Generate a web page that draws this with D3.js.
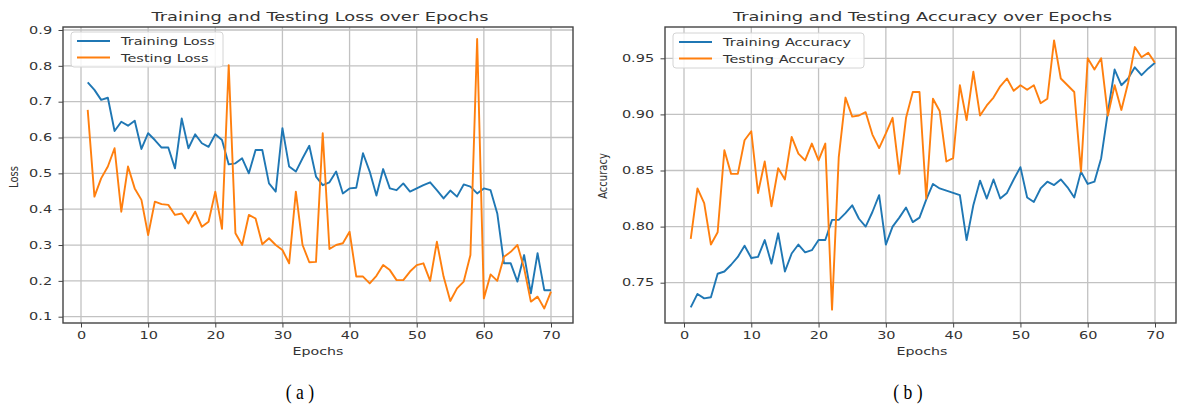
<!DOCTYPE html>
<html lang="en">
<head>
<meta charset="UTF-8">
<title>Training and Testing Loss / Accuracy over Epochs</title>
<style>
  body { margin: 0; background: #fff; }
  svg { display: block; }
  text { font-family: "DejaVu Sans", sans-serif; fill: #333; }
  .grid line { stroke: #c2c2c2; stroke-width: 1.3; }
  .frame { fill: none; stroke: #444; stroke-width: 1.4; }
  .series { fill: none; stroke-width: 1.9; stroke-linejoin: round; }
  .legend-box { fill: #fff; fill-opacity: 0.85; stroke: #d4d4d4; stroke-width: 1; }
  .caption { font-family: "Liberation Serif", serif; font-size: 22px; fill: #000; }
</style>
</head>
<body>
<div id="chart"></div>
<script src="https://cdn.jsdelivr.net/npm/d3@7"></script>
<script>
// values
var trainLoss = [0.754,0.733,0.705,0.711,0.618,0.644,0.633,0.647,0.568,0.612,
                 0.593,0.572,0.572,0.514,0.653,0.570,0.609,0.584,0.574,0.609,
                 0.593,0.525,0.528,0.542,0.500,0.565,0.565,0.472,0.449,0.626,
                 0.519,0.505,0.542,0.577,0.491,0.467,0.475,0.505,0.444,0.458,
                 0.460,0.556,0.505,0.438,0.512,0.458,0.453,0.472,0.449,0.458,
                 0.467,0.475,0.453,0.430,0.452,0.435,0.469,0.463,0.444,0.458,
                 0.453,0.388,0.249,0.249,0.198,0.272,0.165,0.277,0.174,0.174];
var testLoss  = [0.677,0.435,0.486,0.519,0.570,0.393,0.519,0.458,0.426,0.328,
                 0.421,0.414,0.412,0.384,0.388,0.360,0.393,0.351,0.365,0.449,
                 0.345,0.802,0.333,0.300,0.384,0.374,0.302,0.319,0.300,0.286,
                 0.249,0.449,0.300,0.252,0.253,0.612,0.289,0.300,0.305,0.337,
                 0.212,0.212,0.193,0.214,0.244,0.230,0.202,0.202,0.226,0.244,
                 0.249,0.200,0.309,0.212,0.144,0.179,0.198,0.272,0.875,0.151,
                 0.218,0.200,0.267,0.281,0.300,0.235,0.142,0.156,0.123,0.170];
var trainAcc  = [0.728,0.740,0.736,0.737,0.758,0.760,0.766,0.773,0.783,0.772,
                 0.773,0.788,0.767,0.794,0.760,0.776,0.784,0.777,0.779,0.788,
                 0.788,0.806,0.806,0.812,0.819,0.807,0.800,0.813,0.828,0.784,
                 0.800,0.808,0.817,0.804,0.808,0.824,0.838,0.834,0.832,0.830,
                 0.828,0.788,0.819,0.841,0.825,0.842,0.825,0.830,0.842,0.853,
                 0.826,0.822,0.834,0.840,0.837,0.842,0.835,0.826,0.849,0.838,
                 0.840,0.861,0.902,0.940,0.926,0.932,0.942,0.935,0.941,0.946];
var testAcc   = [0.789,0.834,0.821,0.784,0.795,0.868,0.847,0.847,0.877,0.885,
                 0.830,0.858,0.818,0.852,0.842,0.880,0.865,0.859,0.874,0.859,
                 0.874,0.726,0.862,0.915,0.898,0.899,0.902,0.882,0.870,0.883,
                 0.897,0.847,0.897,0.920,0.920,0.825,0.914,0.903,0.858,0.861,
                 0.926,0.895,0.938,0.899,0.908,0.915,0.925,0.932,0.921,0.926,
                 0.922,0.926,0.910,0.914,0.966,0.932,0.926,0.920,0.849,0.950,
                 0.940,0.950,0.899,0.926,0.904,0.928,0.960,0.951,0.955,0.946];

var epochTicks = [0, 10, 20, 30, 40, 50, 60, 70];
var lossTicks  = [0.1, 0.2, 0.3, 0.4, 0.5, 0.6, 0.7, 0.8, 0.9];
var accTicks   = [0.75, 0.80, 0.85, 0.90, 0.95];

var blue = "#1f77b4", orange = "#ff7f0e";

var svg = d3.select("#chart").append("svg")
  .attr("width", 1177)
  .attr("height", 406);

// text in the picture is stretched sideways, so every label gets a scale
function label(g, str, x, y, size, sx, anchor) {
  return g.append("text")
    .attr("transform", "translate(" + x + "," + y + ") scale(" + sx + ",1)")
    .attr("text-anchor", anchor || "start")
    .style("font-size", size + "px")
    .text(str);
}

function panel(o) {
  var g = svg.append("g");
  var epochs = d3.range(1, o.series[0].values.length + 1);

  var x = d3.scaleLinear().domain([0, 70]).range(o.xRange);
  var y = d3.scaleLinear().domain(o.yDomain).range(o.yRange);

  var grid = g.append("g").attr("class", "grid");
  grid.selectAll("line.v").data(epochTicks).join("line")
    .attr("class", "v")
    .attr("x1", function(d) { return x(d); })
    .attr("x2", function(d) { return x(d); })
    .attr("y1", o.top).attr("y2", o.bottom);
  grid.selectAll("line.h").data(o.yTicks).join("line")
    .attr("class", "h")
    .attr("x1", o.left).attr("x2", o.right)
    .attr("y1", function(d) { return y(d); })
    .attr("y2", function(d) { return y(d); });

  var xa = g.append("g")
    .attr("transform", "translate(0," + o.bottom + ")")
    .style("color", "#444")
    .call(d3.axisBottom(x).tickValues(epochTicks).tickSize(4.5).tickPadding(4).tickFormat(d3.format("d")));
  xa.select(".domain").remove();
  xa.selectAll("text").style("font-size", "10px").attr("transform", "scale(1.45,1)");

  var ya = g.append("g")
    .attr("transform", "translate(" + o.left + ",0)")
    .style("color", "#444")
    .call(d3.axisLeft(y).tickValues(o.yTicks).tickSize(4.5).tickPadding(3).tickFormat(o.yFormat));
  ya.select(".domain").remove();
  ya.selectAll("text").style("font-size", "10px").attr("transform", "scale(1.45,1)");

  var line = d3.line()
    .x(function(d, i) { return x(epochs[i]); })
    .y(function(d) { return y(d); });

  o.series.forEach(function(s) {
    g.append("path")
      .datum(s.values)
      .attr("class", "series")
      .attr("stroke", s.color)
      .attr("d", line);
  });

  g.append("rect")
    .attr("class", "frame")
    .attr("x", o.left).attr("y", o.top)
    .attr("width", o.right - o.left)
    .attr("height", o.bottom - o.top);

  // legend
  var lg = g.append("g").attr("transform", "translate(" + o.legend[0] + "," + o.legend[1] + ")");
  lg.append("rect")
    .attr("class", "legend-box")
    .attr("width", o.legendW).attr("height", 35).attr("rx", 3);
  o.series.forEach(function(s, i) {
    var ly = 9 + i * 16.5;
    lg.append("line")
      .attr("x1", 6).attr("x2", 39)
      .attr("y1", ly).attr("y2", ly)
      .attr("stroke", s.color).attr("stroke-width", 1.9);
    label(lg, s.name, 50, ly + 4, 11, 1.32);
  });

  label(g, o.title, (o.left + o.right) / 2 + o.titleShift, 21, 13, 1.37, "middle");
  label(g, "Epochs", o.xLabelX, 355, 10, 1.42, "middle");
  g.append("text")
    .attr("transform", "translate(" + o.yLabel[0] + "," + o.yLabel[1] + ") scale(1.3,1) rotate(-90)")
    .attr("text-anchor", "middle")
    .style("font-size", "10px")
    .text(o.yName);

  g.append("text")
    .attr("class", "caption")
    .attr("transform", "translate(" + o.caption + ",399) scale(0.8,1)")
    .attr("text-anchor", "middle")
    .text(o.captionText);
}

panel({
  left: 63, right: 573, top: 27, bottom: 323,
  xRange: [81, 551],
  yDomain: [0.1, 0.9], yRange: [316.7, 30],
  yTicks: lossTicks, yFormat: d3.format(".1f"),
  series: [
    { name: "Training Loss", values: trainLoss, color: blue },
    { name: "Testing Loss", values: testLoss, color: orange }
  ],
  legend: [71, 32], legendW: 152,
  title: "Training and Testing Loss over Epochs", titleShift: 2,
  xLabelX: 318, yLabel: [18, 177], yName: "Loss",
  caption: 300, captionText: "( a )"
});

panel({
  left: 665, right: 1176, top: 27, bottom: 323,
  xRange: [684, 1155],
  yDomain: [0.75, 0.95], yRange: [282.7, 58.3],
  yTicks: accTicks, yFormat: d3.format(".2f"),
  series: [
    { name: "Training Accuracy", values: trainAcc, color: blue },
    { name: "Testing Accuracy", values: testAcc, color: orange }
  ],
  legend: [673, 33], legendW: 191,
  title: "Training and Testing Accuracy over Epochs", titleShift: 2,
  xLabelX: 922, yLabel: [607, 176], yName: "Accuracy",
  caption: 908, captionText: "( b )"
});
</script>
</body>
</html>
